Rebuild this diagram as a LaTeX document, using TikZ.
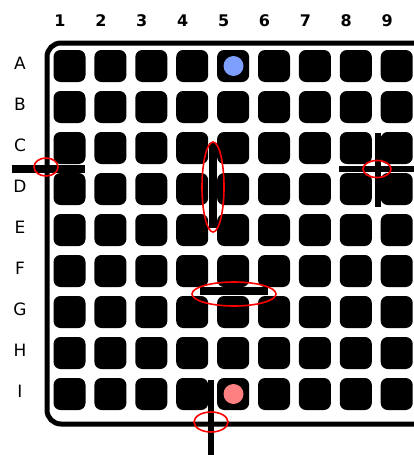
\documentclass[tikz,border=0pt]{standalone}
\usepackage{fontspec}
\setmainfont{DejaVu Sans}
\begin{document}
\begin{tikzpicture}[x=1pt,y=-1pt,
  well/.style={fill=black,rounded corners=7pt},
  bar/.style={fill=black},
  redmark/.style={draw=red,line width=1.6pt},
  collabel/.style={font=\fontsize{16}{16}\selectfont\bfseries,inner sep=0pt},
  rowlabel/.style={font=\fontsize{17}{17}\selectfont,inner sep=0pt}]
\useasboundingbox (0,0) rectangle (414,455);
\begin{scope}
\clip (0,0) rectangle (414,455);
% plate outline
\draw[line width=5pt,rounded corners=14pt] (426,60) -- (426,43) -- (47,43) -- (47,424) -- (426,424);
% wells
\foreach \r [count=\ri from 0] in {A,B,C,D,E,F,G,H,I}{
  \foreach \c [count=\ci from 0] in {1,...,9}{
    \pgfmathsetmacro{\cx}{69.5+40.9*\ci}
    \pgfmathsetmacro{\cy}{66+41*\ri}
    \fill[well] (\cx-16,\cy-16) rectangle (\cx+16,\cy+16);
  }
  \node[rowlabel] (row\r) at (20,63+41*\ri) {\r};
}
\foreach \c [count=\ci from 0] in {1,...,9}{
  \node[collabel] (col\c) at (60+40.9*\ci,21) {\c};
}
% bars
\fill[bar] (12,164.5) rectangle (85,172.5);
\fill[bar] (209,143) rectangle (217,228);
\fill[bar] (200,287) rectangle (268,295);
\fill[bar] (375,133) rectangle (381,207);
\fill[bar] (339,166) rectangle (414,172);
\fill[bar] (208,380) rectangle (214,455);
% dots
\fill[fill={rgb,255:red,127;green,159;blue,255}] (233.5,66) circle[radius=10];
\fill[fill={rgb,255:red,255;green,128;blue,128}] (233.5,394) circle[radius=10];
% red marks
\draw[redmark] (46,167) ellipse[x radius=12,y radius=9];
\draw[redmark] (213,187) ellipse[x radius=11,y radius=45];
\draw[redmark] (377,169) ellipse[x radius=14,y radius=8.5];
\draw[redmark] (234,294) ellipse[x radius=42,y radius=12];
\draw[redmark] (211,422) ellipse[x radius=17,y radius=10];
\end{scope}
\end{tikzpicture}
\end{document}
